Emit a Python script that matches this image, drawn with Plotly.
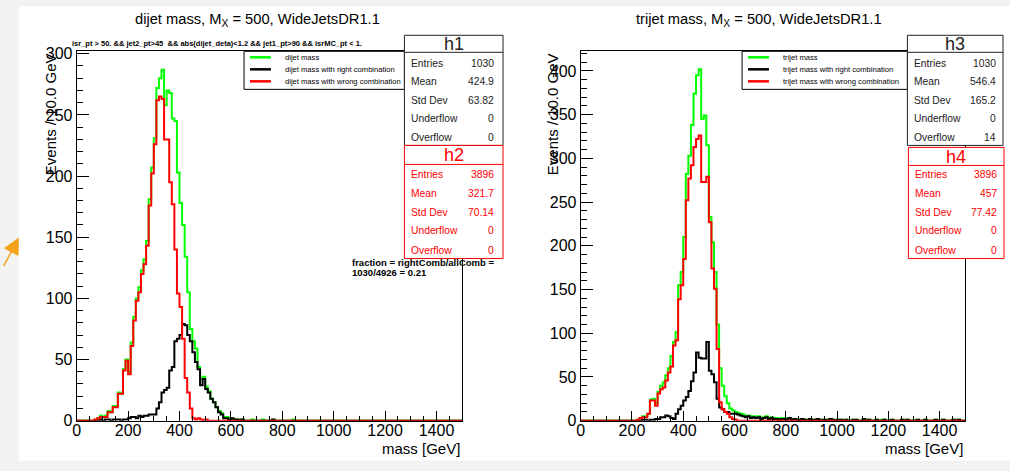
import numpy as np
import plotly.graph_objects as go

W, H = 1010, 471
N_BINS = 150
BIN_W = 10.0

# ---------------- data (events per 10 GeV bin; list starts at bin index *_start) -------------
dijet_all_start = 7
dijet_all = [1, 2, 4, 3, 4, 8, 7, 12, 12, 23, 22, 42, 50, 40, 64, 85, 100, 109, 123, 132,
             147, 181, 207, 231, 272, 280, 287, 258, 270, 268, 247, 245, 203, 178, 160, 134,
             105, 75, 65, 59, 44, 34, 36, 28, 24, 18, 15, 11, 8, 6, 3, 3, 2, 2, 1, 1,
             0, 1, 0, 0, 0, 1, 0, 0, 0, 1, 0, 0, 0, 0, 0, 0, 0, 0, 0, 0, 0, 1]
dijet_right_start = 9
dijet_right = [1, 0, 1, 1, 0, 1, 1, 1, 0, 1, 1, 2, 3, 3, 2, 4, 3, 4, 4, 5, 5, 5,
               10, 15, 23, 25, 27, 41, 44, 65, 67, 70, 79, 78, 70, 65, 56, 48, 42, 29, 34,
               26, 23, 18, 15, 11, 7, 5, 2, 2, 1, 2, 1, 1, 0, 1, 0, 0, 0, 0, 0, 0, 0, 0, 0, 0, 0, 1]
dijet_wrong_start = 7
dijet_wrong = [1, 2, 3, 3, 3, 7, 7, 11, 11, 22, 22, 41, 49, 38, 61, 82, 98, 105, 120, 128,
               143, 176, 202, 226, 262, 265, 263, 230, 230, 195, 177, 140, 104, 93, 67, 35,
               23, 10, 2, 1, 2, 1, 0, 1]

trijet_all_start = 22
trijet_all = [1, 3, 5, 5, 8, 24, 25, 20, 33, 40, 44, 52, 60, 74, 90, 101, 155, 170, 210, 282,
              303, 338, 374, 395, 402, 345, 349, 315, 233, 204, 170, 110, 60, 40, 28, 20, 14,
              12, 10, 9, 8,
              7, 6, 6, 5, 5, 4, 5, 3, 4, 5, 3, 4, 3,
              3, 2, 3, 3, 2, 3, 2, 2, 2, 1, 2, 1, 1, 2, 1, 1, 2, 1, 1, 1, 0, 2, 1, 0, 1,
              1, 0, 1, 0, 0, 1, 1, 0, 0, 2, 0, 1, 0, 0, 1, 0, 1, 1, 0, 0, 1, 0, 0, 0, 1,
              0, 1, 0, 0, 0, 1, 0, 0, 1, 0, 0, 0, 1, 0, 0, 1, 0, 0, 0, 1, 0, 1, 0, 0]
trijet_right_start = 24
trijet_right = [1, 1, 0, 1, 1, 2, 2, 4, 4, 6, 5, 3, 2, 8, 13, 17, 23, 27, 34, 45, 55, 78, 72,
                71, 71, 90, 57, 53, 44, 25, 15, 13, 10, 10, 8, 8, 8, 7, 6,
                5, 4, 5, 3, 4, 3, 4, 2, 3, 4, 2, 3, 2,
                2, 1, 2, 2, 1, 3, 1, 2, 1, 1, 2, 1, 0, 2, 1, 1, 2, 0, 1, 1, 0, 2, 1, 0, 1,
                1, 0, 1, 0, 0, 1, 1, 0, 0, 2, 0, 1, 0, 0, 1, 0, 0, 1, 0, 0, 1, 0, 0, 0, 1,
                0, 1, 0, 0, 0, 1, 0, 0, 1, 0, 0, 0, 1, 0, 0, 1, 0, 0, 0, 1, 0, 1, 0, 0]
trijet_wrong_start = 22
trijet_wrong = [1, 3, 4, 4, 8, 23, 23, 17, 31, 36, 38, 46, 55, 62, 86, 92, 139, 155, 185, 252,
                277, 292, 313, 322, 326, 273, 273, 279, 227, 174, 151, 82, 21, 13, 10, 8, 4, 2, 1]

stat_labels = ["Entries", "Mean", "Std Dev", "Underflow", "Overflow"]
h1_stats = ["1030", "424.9", "63.82", "0", "0"]
h2_stats = ["3896", "321.7", "70.14", "0", "0"]
h3_stats = ["1030", "546.4", "165.2", "0", "14"]
h4_stats = ["3896", "457", "77.42", "0", "0"]

left_legend = ["dijet mass", "dijet mass with right combination", "dijet mass with wrong combination"]
right_legend = ["trijet mass", "trijet mass with right combination", "trijet mass with wrong combination"]
series_colors = ["#00ff00", "#000000", "#ff0000"]

left_title = "dijet mass, M<sub>X</sub> = 500, WideJetsDR1.1"
right_title = "trijet mass, M<sub>X</sub> = 500, WideJetsDR1.1"
cut_text = "isr_pt > 50. && jet2_pt>45  && abs(dijet_deta)<1.2 && jet1_pt>90 && isrMC_pt < 1."
fraction_lines = ["fraction = rightComb/allComb =", "1030/4926 = 0.21"]
x_ticks = list(range(0, 1401, 200))
x_range = [0, 1500]
left_ymax = 302
right_ymax = 422.4

FONT = "Liberation Sans, Arial, Helvetica, sans-serif"

# The photographed page comes back shrunk vertically (8 px top offset, 487 -> 471 rows);
# vertical positions below are in final-picture pixels and converted here.
SY = H / (H + 16.0)


def fyp(y):
    return min(max(y / SY - 8.0, 0.0), H)


def px(x):
    return x / W


def py(y):
    return 1 - fyp(y) / H


def full(start, vals):
    arr = np.zeros(N_BINS)
    arr[start:start + len(vals)] = vals
    return arr


edges = np.arange(N_BINS + 1) * BIN_W


def step_trace(values, color, xa, ya):
    y = np.append(values, values[-1])
    return go.Scatter(x=edges, y=y, mode="lines", line=dict(color=color, width=2, shape="hv"),
                      xaxis=xa, yaxis=ya, showlegend=False, hoverinfo="skip")


fig = go.Figure()
left_series = [full(dijet_all_start, dijet_all), full(dijet_right_start, dijet_right),
               full(dijet_wrong_start, dijet_wrong)]
right_series = [full(trijet_all_start, trijet_all), full(trijet_right_start, trijet_right),
                full(trijet_wrong_start, trijet_wrong)]
for s, c in zip(left_series, series_colors):
    fig.add_trace(step_trace(s, c, "x", "y"))
for s, c in zip(right_series, series_colors):
    fig.add_trace(step_trace(s, c, "x2", "y2"))

axis_common = dict(showgrid=False, zeroline=False, showline=True, mirror=True, linecolor="black",
                   linewidth=1, ticks="inside", tickcolor="black",
                   tickfont=dict(family=FONT, size=16, color="black"))
xcfg = dict(axis_common, range=x_range, tickvals=x_ticks, ticklen=10, ticklabelstandoff=-5,
            minor=dict(dtick=50, tick0=0, ticklen=5, ticks="inside", tickcolor="black"))
ycfg = dict(axis_common, dtick=50, tick0=0, ticklen=12,
            minor=dict(dtick=10, tick0=0, ticklen=6, ticks="inside", tickcolor="black"))

fig.update_layout(
    width=W, height=H, margin=dict(l=0, r=0, t=0, b=0, pad=0),
    paper_bgcolor="#f2f2f2", plot_bgcolor="white", showlegend=False,
    xaxis=dict(xcfg, domain=[px(73), px(460)], anchor="y"),
    yaxis=dict(ycfg, domain=[py(422), py(53)], range=[0, left_ymax], anchor="x"),
    xaxis2=dict(xcfg, domain=[px(579), px(965)], anchor="y2"),
    yaxis2=dict(ycfg, domain=[py(422), py(53)], range=[0, right_ymax], anchor="x2"),
)

shapes = []
annots = []

# white canvas
shapes.append(dict(type="rect", xref="paper", yref="paper", x0=px(15), x1=1, y0=py(462), y1=1,
                   fillcolor="white", line=dict(width=0), layer="below"))


def text(x, y, s, size, color="black", xanchor="left", angle=0):
    annots.append(dict(xref="paper", yref="paper", x=px(x), y=py(y), text=s, showarrow=False,
                       xanchor=xanchor, yanchor="middle", textangle=angle,
                       font=dict(family=FONT, size=size, color=color)))


def rect(x0, y0, x1, y1, color, fill="white"):
    shapes.append(dict(type="rect", xref="paper", yref="paper", x0=px(x0), x1=px(x1),
                       y0=py(y1), y1=py(y0), line=dict(color=color, width=1), fillcolor=fill))


def hline(x0, x1, y, color, width=1):
    shapes.append(dict(type="line", xref="paper", yref="paper", x0=px(x0), x1=px(x1),
                       y0=py(y), y1=py(y), line=dict(color=color, width=width)))


def stat_box(x0, x1, top, head, bottom, name, values, color, rows_y, lab_x, val_x):
    rect(x0, top, x1, bottom, color)
    hline(x0, x1, head, color)
    text((x0 + x1) / 2, (top + head) / 2 + 0.5, name, 18, color, "center")
    for lab, val, yy in zip(stat_labels, values, rows_y):
        text(lab_x, yy, lab, 10.3, color, "left")
        text(val_x, yy, val, 10.3, color, "right")


rows1 = [65, 83.5, 102, 120.5, 139]
rows2 = [176.5, 195.5, 214, 232.5, 251.5]

for lx0, lx1, titles in [(241, 402, left_legend), (741, 907, right_legend)]:
    rect(lx0, 53, lx1, 91, "black")
    for i, (lab, col) in enumerate(zip(titles, series_colors)):
        yy = 59 + 12 * i
        hline(lx0 + 6, lx0 + 27, yy, col, 2.5)
        text(lx0 + 39, yy, lab, 7.6, "black", "left")

stat_box(402, 501, 37, 54, 147, "h1", h1_stats, "#222222", rows1, 407, 494)
stat_box(402, 501, 147, 166, 260, "h2", h2_stats, "#ff0000", rows2, 407, 494)
stat_box(907, 1003, 37, 54, 147, "h3", h3_stats, "#222222", rows1, 912, 998)
stat_box(908, 1004, 149, 167, 260, "h4", h4_stats, "#ff0000", rows2, 913, 999)

# titles
text(255, 22, left_title, 14.7, "black", "center")
text(758, 22, right_title, 14.7, "black", "center")
text(66, 45.5, "<b>" + cut_text + "</b>", 7.5, "black", "left")
text(347, 264, "<b>" + fraction_lines[0] + "</b>", 9.5, "black", "left")
text(347, 273.5, "<b>" + fraction_lines[1] + "</b>", 9.5, "black", "left")

# axis titles
text(47, 116, "Events / 10.0 GeV", 15, "black", "center", -90)
text(551, 116, "Events / 10.0 GeV", 15, "black", "center", -90)
text(460, 450, "mass [GeV]", 15, "black", "right")
text(965, 450, "mass [GeV]", 15, "black", "right")

# orange arrow at the left edge
annots.append(dict(xref="paper", yref="paper", x=px(15), y=py(239), text="", showarrow=True,
                   ax=-16, ay=30, arrowcolor="#f5a21b", arrowwidth=1.5, arrowhead=2, arrowsize=2.2))

fig.update_layout(shapes=shapes, annotations=annots)
fig.write_html("out.html")
